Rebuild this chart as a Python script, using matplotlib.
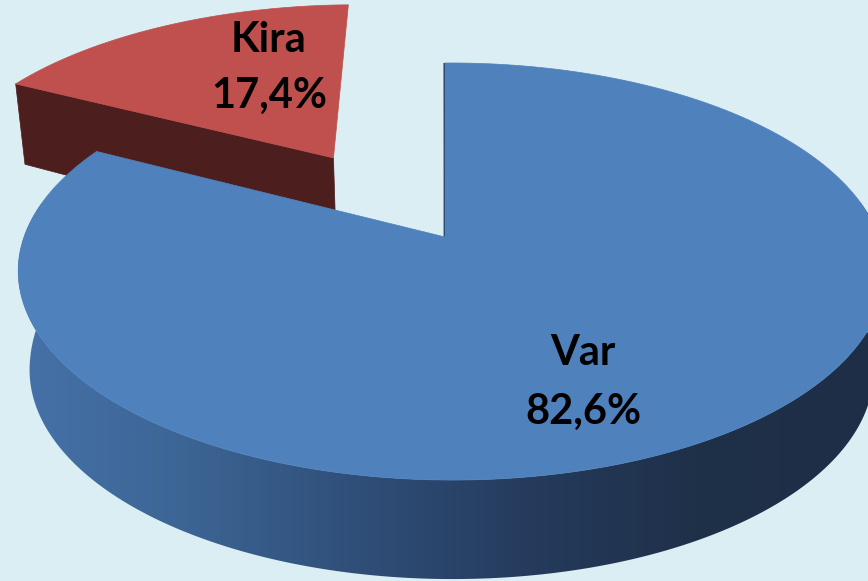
import numpy as np
import matplotlib
matplotlib.use("Agg")
import matplotlib.pyplot as plt
from matplotlib.patches import Polygon
from matplotlib.colors import LinearSegmentedColormap

# ---- data ----
labels = ["Var", "Kira"]
values = [82.6, 17.4]
pct_text = ["82,6%", "17,4%"]
top_colors = ["#4F81BD", "#C0504D"]
side_colors = ["#1F3049", "#4D1E1E"]
explode = [0.0, 0.49]

BG = "#DAEEF3"
W, H = 868, 581

fig = plt.figure(figsize=(W / 100, H / 100), dpi=100)
fig.patch.set_facecolor(BG)
ax = fig.add_axes([0, 0, 1, 1])
ax.set_xlim(0, W)
ax.set_ylim(H, 0)
ax.axis("off")
ax.set_facecolor(BG)

# ---- perspective projection of the unit disc (top face) ----
X0, Y0, K, J, A, B = 445.0, 237.0, 0.1655, -0.0152, 202.8, 427.4
EXPL_X = 1.1


def proj(X, Y):
    d = 1.0 + K * Y + J * X
    return X0 + B * X / d, Y0 - A * Y / d


def drop(px, py):
    t = np.minimum(99.0, 71.6 + 0.105 * py)
    return px + 0.0266 * (450.0 - px) * t / 100.0, py + t


def rim(a0, a1, ex, ey, n=400):
    ph = np.radians(np.linspace(a0, a1, n))
    return proj(ex + np.cos(ph), ey + np.sin(ph))


side_cmap = LinearSegmentedColormap.from_list(
    "side", ["#4773AA", "#3D6696", "#30507A", "#253C5E", "#1F3049", "#1E2E46"])
grad = np.tile(np.linspace(0, 1, W), (H, 1))

# slice angles (start at 12 o'clock, clockwise)
bounds = []
start = 90.0
for v in values:
    span = 360.0 * v / sum(values)
    bounds.append((start - span, start))  # (lo, hi) in ccw terms
    start -= span

slices = []
for i, (lo, hi) in enumerate(bounds):
    mid = np.radians((lo + hi) / 2)
    ex, ey = EXPL_X * explode[i] * np.cos(mid), explode[i] * np.sin(mid)
    apex = proj(ex, ey)
    slices.append((i, lo, hi, ex, ey, apex))

# draw back slices first
slices.sort(key=lambda s: s[5][1])

for i, lo, hi, ex, ey, apex in slices:
    # radial faces
    for a, nrm in ((lo, lo - 90), (hi, hi + 90)):
        n = np.radians(nrm)
        if -np.sin(n) - 0.3 * np.cos(n) > 0:
            rx, ry = proj(ex + np.cos(np.radians(a)), ey + np.sin(np.radians(a)))
            bx, by = drop(rx, ry)
            ax2, ay2 = drop(*apex)
            poly = Polygon([apex, (rx, ry), (bx, by), (ax2, ay2)], closed=True,
                           facecolor=side_colors[i], edgecolor=side_colors[i],
                           linewidth=1.8 if i == 0 else 0.5, zorder=2)
            ax.add_patch(poly)
    # outer side (front visible part)
    for shift in (-360, 0, 360):
        f0, f1 = 170 + shift, 370 + shift
        s0, s1 = max(lo, f0), min(hi, f1)
        if s1 > s0:
            tx, ty = rim(s0, s1, ex, ey)
            bx, by = drop(tx, ty)
            pts = np.column_stack([np.concatenate([tx, bx[::-1]]),
                                   np.concatenate([ty, by[::-1]])])
            if i == 0:
                poly = Polygon(pts, closed=True, facecolor="none",
                               edgecolor="none", zorder=2)
                ax.add_patch(poly)
                im = ax.imshow(grad, cmap=side_cmap, extent=(0, W, H, 0),
                               aspect="auto", zorder=2, interpolation="bilinear")
                im.set_clip_path(poly)
            else:
                ax.add_patch(Polygon(pts, closed=True, facecolor=side_colors[i],
                                     edgecolor="none", zorder=2))
    # top face
    tx, ty = rim(lo, hi, ex, ey)
    pts = np.vstack([[apex], np.column_stack([tx, ty])])
    ax.add_patch(Polygon(pts, closed=True, facecolor=top_colors[i],
                         edgecolor=top_colors[i], linewidth=0.5, zorder=3))

# ---- labels ----
font = ["Lato", "DejaVu Sans"]
label_pos = {0: (583, 365, 424), 1: (269, 52, 108)}
for i in range(len(values)):
    x, yb1, yb2 = label_pos[i]
    ax.text(x, yb1, labels[i], ha="center", va="baseline", fontsize=30,
            fontweight="bold", family=font, color="black", zorder=5)
    ax.text(x, yb2, pct_text[i], ha="center", va="baseline", fontsize=30,
            fontweight="bold", family=font, color="black", zorder=5)

fig.savefig("out.png", dpi=100, facecolor=BG)
